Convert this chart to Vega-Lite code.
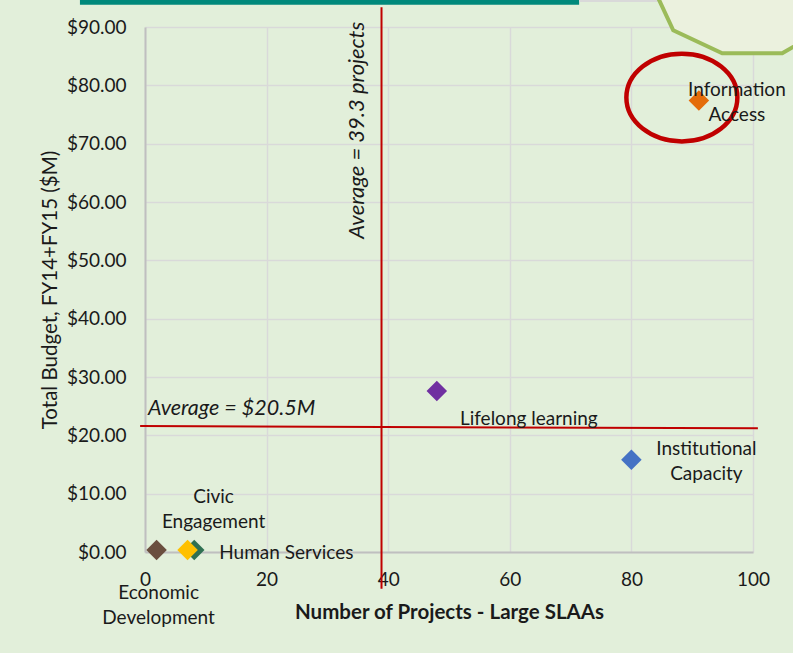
{
  "$schema": "https://vega.github.io/schema/vega-lite/v6.json",
  "width": 608,
  "height": 525,
  "autosize": {"type": "none"},
  "padding": {"left": 145, "top": 27, "right": 40, "bottom": 101},
  "background": "#E2EFDA",
  "config": {
    "view": {"stroke": null},
    "font": "Lato",
    "text": {"font": "Lato", "fontSize": 19, "color": "#1a1a1a"},
    "axis": {
      "labelFont": "Lato",
      "titleFont": "Lato",
      "labelFontSize": 19,
      "titleFontSize": 20.5,
      "labelColor": "#1a1a1a",
      "titleColor": "#1a1a1a",
      "labelFlush": false,
      "labelOverlap": false,
      "ticks": false,
      "tickSize": 0,
      "grid": true,
      "domainColor": "#BFBFBF",
      "domainWidth": 2,
      "gridColor": "#D9D9D9",
      "gridWidth": 1.5
    }
  },
  "datasets": {
    "areas": [
      {"name": "Information Access", "label": "Information\nAccess", "projects": 91.1, "budget": 77.4},
      {"name": "Lifelong learning", "label": "Lifelong learning", "projects": 48.0, "budget": 27.6},
      {"name": "Institutional Capacity", "label": "Institutional\nCapacity", "projects": 80.0, "budget": 15.8},
      {"name": "Economic Development", "label": "Economic\nDevelopment", "projects": 1.9, "budget": 0.35},
      {"name": "Human Services", "label": "Human Services", "projects": 8.1, "budget": 0.35},
      {"name": "Civic Engagement", "label": "Civic\nEngagement", "projects": 7.0, "budget": 0.35}
    ],
    "one": [{"a": 1}]
  },
  "layer": [
    {
      "data": {"name": "areas"},
      "mark": {"type": "point", "shape": "diamond", "filled": true, "size": 420, "opacity": 1},
      "encoding": {
        "x": {
          "field": "projects",
          "type": "quantitative",
          "scale": {"domain": [0, 100], "nice": false, "zero": false},
          "axis": {
            "values": [0, 20, 40, 60, 80, 100],
            "grid": true,
            "labelFlush": false,
            "title": "Number of Projects - Large SLAAs",
            "titleFontWeight": "bold",
            "titleY": 60,
            "titleBaseline": "middle",
            "labelPadding": 18
          }
        },
        "y": {
          "field": "budget",
          "type": "quantitative",
          "scale": {"domain": [0, 90], "nice": false},
          "axis": {
            "values": [0, 10, 20, 30, 40, 50, 60, 70, 80, 90],
            "grid": true,
            "labelFlush": false,
            "format": "$.2f",
            "title": "Total Budget, FY14+FY15 ($M)",
            "titleFontWeight": "normal",
            "titleX": -95,
            "titleBaseline": "middle",
            "labelPadding": 19
          }
        },
        "color": {
          "field": "name",
          "type": "nominal",
          "legend": null,
          "scale": {
            "domain": ["Information Access", "Lifelong learning", "Institutional Capacity", "Economic Development", "Human Services", "Civic Engagement"],
            "range": ["#E46C0A", "#7030A0", "#4472C4", "#6A4E3E", "#2F7052", "#FFC000"]
          }
        }
      }
    },
    {
      "data": {"name": "one"},
      "mark": {"type": "rect", "color": "#00897B"},
      "encoding": {
        "x": {"datum": -10.7, "type": "quantitative"},
        "x2": {"datum": 71.4},
        "y": {"datum": 93.8, "type": "quantitative"},
        "y2": {"datum": 99}
      }
    },
    {
      "data": {"name": "one"},
      "mark": {"type": "rule", "color": "#D9D9D9", "strokeWidth": 2},
      "encoding": {
        "x": {"datum": 71.4, "type": "quantitative"},
        "x2": {"datum": 84.4},
        "y": {"datum": 94.45, "type": "quantitative"}
      }
    },
    {
      "data": {"name": "one"},
      "mark": {"type": "point", "shape": "M-0.95,-0.2L-0.67,0.4L-0.18,0.63L0.42,0.63L0.9,0.35L1,-0.2L0.9,-0.9L-0.9,-0.9Z", "size": 40000, "filled": false, "fill": "#EBF1DE", "fillOpacity": 1, "stroke": "#9BBB59", "strokeWidth": 4, "opacity": 1},
      "encoding": {
        "x": {"datum": 97.9, "type": "quantitative"},
        "y": {"datum": 96.3, "type": "quantitative"}
      }
    },
    {
      "data": {"name": "one"},
      "mark": {"type": "rule", "color": "#C00000", "strokeWidth": 2},
      "encoding": {
        "x": {"datum": 38.9, "type": "quantitative"},
        "y": {"datum": -6.3, "type": "quantitative"},
        "y2": {"datum": 93.4}
      }
    },
    {
      "data": {"name": "one"},
      "mark": {"type": "rule", "color": "#C00000", "strokeWidth": 2},
      "encoding": {
        "x": {"datum": -0.8, "type": "quantitative"},
        "x2": {"datum": 100.8},
        "y": {"datum": 21.6, "type": "quantitative"},
        "y2": {"datum": 21.2}
      }
    },
    {
      "data": {"name": "one"},
      "mark": {"type": "text", "text": "Average = $20.5M", "fontStyle": "italic", "fontSize": 21.5, "align": "left", "baseline": "middle", "dx": 3, "dy": -17},
      "encoding": {
        "x": {"datum": 0, "type": "quantitative"},
        "y": {"datum": 21.6, "type": "quantitative"}
      }
    },
    {
      "data": {"name": "one"},
      "mark": {"type": "text", "text": "Average = 39.3 projects", "fontStyle": "italic", "fontSize": 22, "align": "center", "baseline": "middle", "angle": -90, "dy": -25},
      "encoding": {
        "x": {"datum": 38.9, "type": "quantitative"},
        "y": {"datum": 72.3, "type": "quantitative"}
      }
    },
    {
      "data": {"name": "one"},
      "mark": {"type": "point", "shape": "M-1,0A1,0.79,0,1,1,1,0A1,0.79,0,1,1,-1,0Z", "size": 12321, "filled": false, "stroke": "#C00000", "strokeWidth": 4.5, "opacity": 1},
      "encoding": {
        "x": {"datum": 88.3, "type": "quantitative"},
        "y": {"datum": 77.9, "type": "quantitative"}
      }
    },
    {
      "data": {"name": "areas"},
      "transform": [{"filter": "datum.name === 'Information Access'"}],
      "mark": {"type": "text", "lineBreak": "\n", "lineHeight": 25, "align": "center", "baseline": "middle", "dx": 38, "dy": -11},
      "encoding": {"x": {"field": "projects", "type": "quantitative"}, "y": {"field": "budget", "type": "quantitative"}, "text": {"field": "label"}}
    },
    {
      "data": {"name": "areas"},
      "transform": [{"filter": "datum.name === 'Lifelong learning'"}],
      "mark": {"type": "text", "lineBreak": "\n", "lineHeight": 25, "align": "center", "baseline": "middle", "dx": 92, "dy": 28},
      "encoding": {"x": {"field": "projects", "type": "quantitative"}, "y": {"field": "budget", "type": "quantitative"}, "text": {"field": "label"}}
    },
    {
      "data": {"name": "areas"},
      "transform": [{"filter": "datum.name === 'Institutional Capacity'"}],
      "mark": {"type": "text", "lineBreak": "\n", "lineHeight": 25, "align": "center", "baseline": "middle", "dx": 75, "dy": -11},
      "encoding": {"x": {"field": "projects", "type": "quantitative"}, "y": {"field": "budget", "type": "quantitative"}, "text": {"field": "label"}}
    },
    {
      "data": {"name": "areas"},
      "transform": [{"filter": "datum.name === 'Economic Development'"}],
      "mark": {"type": "text", "lineBreak": "\n", "lineHeight": 25, "align": "center", "baseline": "middle", "dx": 2, "dy": 43},
      "encoding": {"x": {"field": "projects", "type": "quantitative"}, "y": {"field": "budget", "type": "quantitative"}, "text": {"field": "label"}}
    },
    {
      "data": {"name": "areas"},
      "transform": [{"filter": "datum.name === 'Civic Engagement'"}],
      "mark": {"type": "text", "lineBreak": "\n", "lineHeight": 25, "align": "center", "baseline": "middle", "dx": 26, "dy": -53},
      "encoding": {"x": {"field": "projects", "type": "quantitative"}, "y": {"field": "budget", "type": "quantitative"}, "text": {"field": "label"}}
    },
    {
      "data": {"name": "areas"},
      "transform": [{"filter": "datum.name === 'Human Services'"}],
      "mark": {"type": "text", "lineBreak": "\n", "lineHeight": 25, "align": "left", "baseline": "middle", "dx": 25, "dy": 3},
      "encoding": {"x": {"field": "projects", "type": "quantitative"}, "y": {"field": "budget", "type": "quantitative"}, "text": {"field": "label"}}
    }
  ]
}
